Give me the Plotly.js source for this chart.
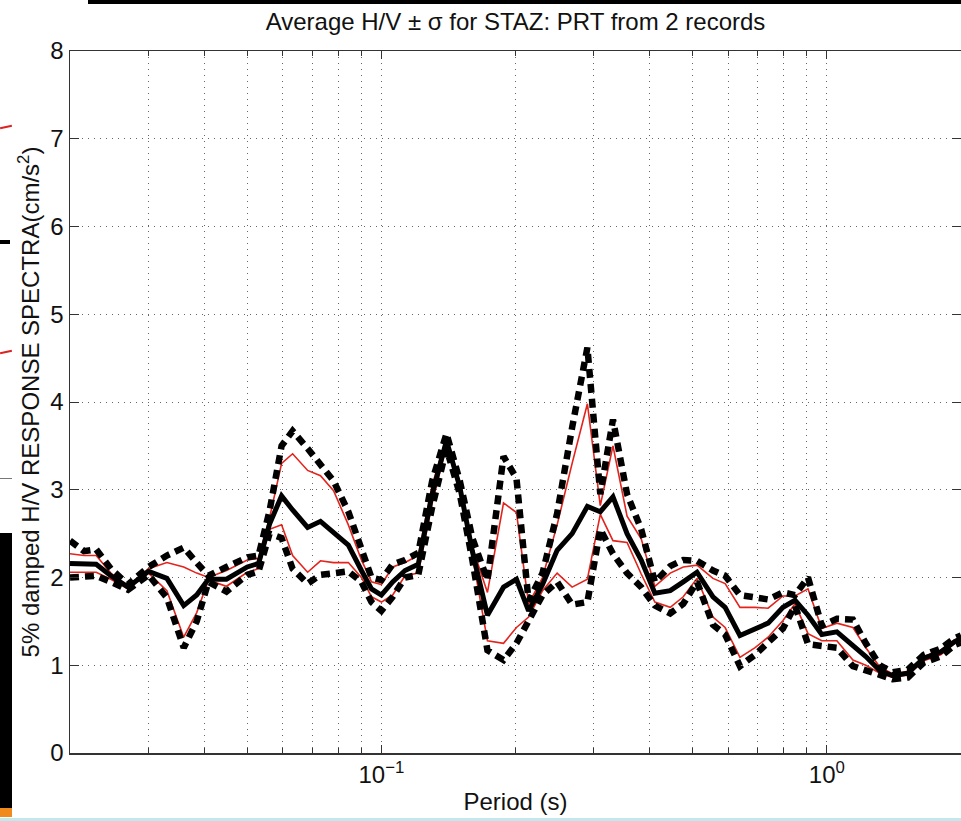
<!DOCTYPE html>
<html>
<head>
<meta charset="utf-8">
<script src="https://cdn.plot.ly/plotly-3.0.1.min.js"></script>
<style>
  html, body { margin: 0; padding: 0; background: #fff; }
  #chart { position: absolute; left: 0; top: 0; width: 961px; height: 821px; }
  .art { position: absolute; }
</style>
</head>
<body>
<div id="chart"></div>
<!-- fragments of the neighbouring figure visible at the page edges -->
<div class="art" style="left:88px;top:0;width:873px;height:4px;background:#000"></div>
<div class="art" style="left:0;top:533px;width:12px;height:276px;background:#000"></div>
<div class="art" style="left:0;top:808px;width:12px;height:9px;background:#f08a1c"></div>
<div class="art" style="left:0;top:818px;width:961px;height:3px;background:#bfe9ec"></div>
<div class="art" style="left:0;top:126px;width:12px;height:2px;background:#d22;transform:rotate(-12deg)"></div>
<div class="art" style="left:0;top:351px;width:12px;height:2px;background:#d22;transform:rotate(-12deg)"></div>
<div class="art" style="left:0;top:240px;width:10px;height:4px;background:#000"></div>
<div class="art" style="left:0;top:478px;width:12px;height:1px;background:#777"></div>
<script>
// Period (s)
const periods = [0.020,0.0215,0.0229,0.0247,0.027,0.030,0.033,0.036,0.0385,0.0409,
  0.0449,0.050,0.053,0.0561,0.0597,0.0632,0.0683,0.073,0.0781,0.0843,
  0.0902,0.095,0.100,0.106,0.113,0.121,0.130,0.140,0.150,0.160,
  0.173,0.188,0.201,0.214,0.230,0.248,0.268,0.290,0.310,0.331,
  0.356,0.383,0.411,0.445,0.476,0.511,0.555,0.591,0.638,0.690,
  0.738,0.797,0.848,0.907,0.974,1.053,1.144,1.223,1.315,1.406,
  1.519,1.650,1.801,1.936,2.000];

// individual records (red)
const recordA = [2.27,2.25,2.25,2.05,1.90,2.10,2.17,2.12,2.05,2.00,
  2.08,2.20,2.22,2.68,3.30,3.41,3.22,3.16,2.99,2.60,
  2.20,1.95,1.92,2.12,2.17,2.25,3.05,3.60,3.08,2.35,
  1.83,2.85,2.74,1.70,2.00,2.60,3.30,3.98,2.82,3.50,
  2.70,2.44,1.90,2.05,2.12,2.14,1.99,1.93,1.66,1.66,
  1.65,1.79,1.79,1.87,1.42,1.48,1.43,1.20,0.98,0.90,
  0.93,1.10,1.17,1.29,1.32];
const recordB = [2.06,2.06,2.06,1.98,1.87,2.05,1.85,1.32,1.60,1.97,
  1.90,2.06,2.10,2.55,2.60,2.25,2.06,2.19,2.17,2.17,
  2.00,1.78,1.72,1.80,2.02,2.05,2.85,3.50,2.98,2.25,
  1.28,1.25,1.43,1.55,1.85,2.05,1.89,1.98,2.72,2.42,
  2.40,2.04,1.72,1.66,1.78,1.99,1.55,1.43,1.09,1.20,
  1.32,1.51,1.70,1.36,1.28,1.28,1.06,1.00,0.91,0.86,
  0.89,1.05,1.12,1.25,1.28];
// average H/V (thick black)
const meanHV = [2.16,2.15,2.15,2.02,1.89,2.07,1.99,1.68,1.80,1.98,
  1.98,2.12,2.16,2.61,2.93,2.77,2.57,2.64,2.52,2.37,
  2.08,1.87,1.80,1.95,2.08,2.15,2.95,3.56,3.03,2.30,
  1.57,1.89,1.98,1.62,1.92,2.31,2.50,2.81,2.75,2.92,
  2.50,2.20,1.82,1.85,1.95,2.06,1.78,1.66,1.34,1.41,
  1.48,1.66,1.74,1.57,1.35,1.38,1.22,1.10,0.94,0.88,
  0.91,1.08,1.15,1.27,1.30];
// average + sigma (dashed)
const plusSigma = [2.42,2.30,2.32,2.10,1.92,2.12,2.25,2.34,2.17,2.02,
  2.12,2.23,2.25,2.76,3.50,3.67,3.47,3.30,3.10,2.75,
  2.30,2.00,1.97,2.15,2.20,2.28,3.10,3.64,3.10,2.45,
  1.97,3.38,3.13,1.73,2.05,2.73,3.71,4.62,2.95,3.80,
  2.95,2.55,1.95,2.13,2.20,2.19,2.08,2.02,1.80,1.78,
  1.75,1.83,1.80,2.00,1.45,1.53,1.52,1.25,1.00,0.92,
  0.95,1.12,1.19,1.31,1.34];
// average - sigma (dashed)
const minusSigma = [2.00,2.02,2.02,1.95,1.86,2.03,1.77,1.20,1.50,1.95,
  1.84,2.03,2.07,2.50,2.45,2.10,1.93,2.03,2.05,2.07,
  1.95,1.72,1.62,1.78,2.00,2.03,2.80,3.47,2.95,2.20,
  1.17,1.06,1.25,1.52,1.80,1.95,1.69,1.72,2.55,2.27,
  2.05,1.89,1.68,1.59,1.70,1.95,1.46,1.35,0.99,1.12,
  1.25,1.42,1.68,1.24,1.22,1.20,0.99,0.95,0.89,0.84,
  0.86,1.03,1.10,1.23,1.26];

const xMajorVals = [0.1, 1];
const xMajorText = ['10<sup>−1</sup>', '10<sup>0</sup>'];
const xMinorVals = [0.02,0.03,0.04,0.05,0.06,0.07,0.08,0.09,0.2,0.3,0.4,0.5,0.6,0.7,0.8,0.9,2];

const FONT = 'Liberation Sans, Arial, Helvetica, sans-serif';
const red = '#e3231c';

const traces = [
  {x: periods, y: recordA, mode: 'lines', line: {color: red, width: 1.6}},
  {x: periods, y: recordB, mode: 'lines', line: {color: red, width: 1.6}},
  {x: periods, y: meanHV, mode: 'lines', line: {color: '#000', width: 5}},
  {x: periods, y: plusSigma, mode: 'lines', line: {color: '#000', width: 6.5, dash: '9px,6px'}},
  {x: periods, y: minusSigma, mode: 'lines', line: {color: '#000', width: 6.5, dash: '9px,6px'}}
];

const layout = {
  width: 961, height: 821,
  margin: {l: 70, r: 0, t: 51, b: 68, pad: 0},
  paper_bgcolor: '#fff', plot_bgcolor: '#fff',
  showlegend: false,
  font: {family: FONT, size: 24, color: '#111'},
  title: {
    text: 'Average H/V ± σ for STAZ: PRT from 2 records',
    font: {family: FONT, size: 24, color: '#111'},
    x: 0.5, xref: 'paper', xanchor: 'center',
    y: 1 - 22/821, yref: 'container', yanchor: 'middle'
  },
  xaxis: {
    type: 'log',
    range: [Math.log10(0.02), Math.log10(2)],
    tickmode: 'array', tickvals: xMajorVals, ticktext: xMajorText,
    ticks: 'inside', ticklen: 8, tickwidth: 1, tickcolor: '#333',
    showline: true, linecolor: '#333', linewidth: 1.5, mirror: 'ticks',
    showgrid: true, gridcolor: '#666', gridwidth: 1, griddash: '1px,5px',
    minor: {
      tickmode: 'array', tickvals: xMinorVals,
      ticks: 'inside', ticklen: 5, tickwidth: 1, tickcolor: '#333',
      showgrid: true, gridcolor: '#666', gridwidth: 1, griddash: '1px,5px'
    },
    zeroline: false,
    tickfont: {family: FONT, size: 24, color: '#111'},
    title: {text: 'Period (s)', font: {family: FONT, size: 24, color: '#111'}, standoff: 6}
  },
  yaxis: {
    range: [0, 8], tickmode: 'linear', tick0: 0, dtick: 1,
    ticks: 'inside', ticklen: 9, tickwidth: 1, tickcolor: '#333',
    showline: true, linecolor: '#333', linewidth: 1.5, mirror: 'ticks',
    showgrid: true, gridcolor: '#666', gridwidth: 1, griddash: '1px,5px',
    zeroline: false,
    tickfont: {family: FONT, size: 24, color: '#111'},
    title: {text: '5% damped H/V RESPONSE SPECTRA(cm/s<sup>2</sup>)', font: {family: FONT, size: 24, color: '#111'}, standoff: 4}
  }
};

Plotly.newPlot('chart', traces, layout, {displayModeBar: false, staticPlot: true});
</script>
</body>
</html>
